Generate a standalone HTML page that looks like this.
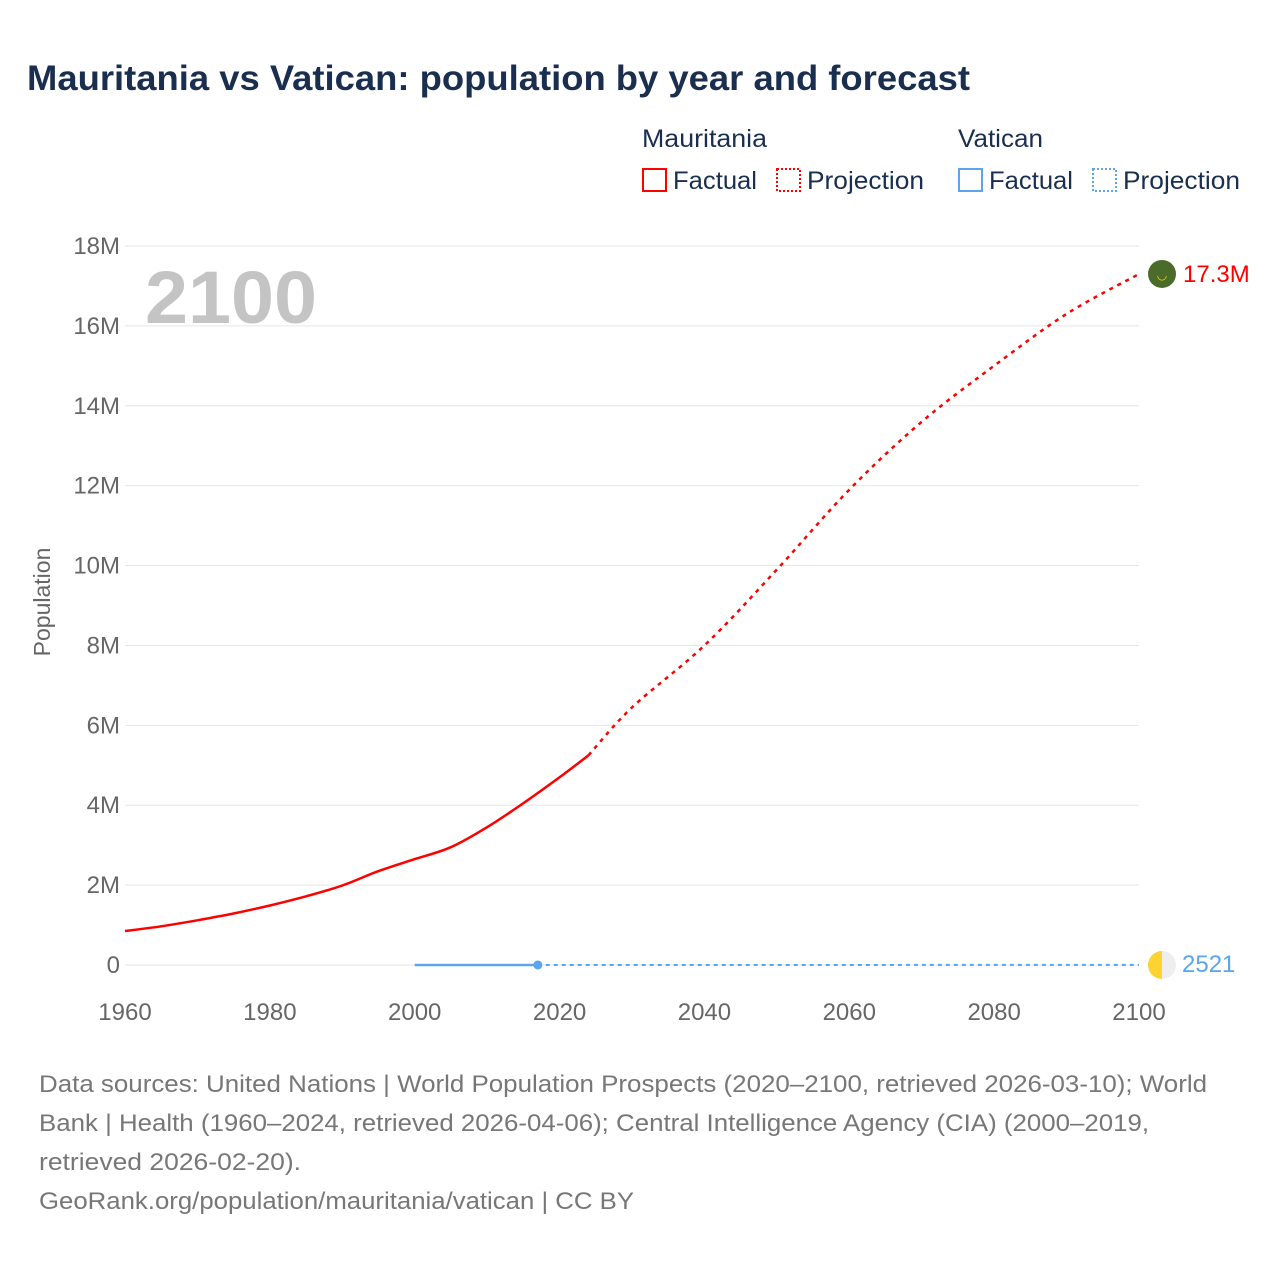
<!DOCTYPE html>
<html><head><meta charset="utf-8">
<style>
body{margin:0;background:#fff;font-family:"Liberation Sans",sans-serif;}
</style></head>
<body>
<svg id="chart" width="1280" height="1280" xmlns="http://www.w3.org/2000/svg" font-family="Liberation Sans, sans-serif">
<text x="27" y="90" font-size="35" font-weight="bold" fill="#1a2e4f" textLength="943" lengthAdjust="spacingAndGlyphs">Mauritania vs Vatican: population by year and forecast</text>
<g font-size="25" fill="#1a2e4f">
<text x="642" y="147" textLength="125" lengthAdjust="spacingAndGlyphs">Mauritania</text>
<text x="958" y="147" textLength="85" lengthAdjust="spacingAndGlyphs">Vatican</text>
<g><rect x="643" y="169" width="23" height="22" fill="none" stroke="#f00" stroke-width="2"/><text x="673" y="189" textLength="84" lengthAdjust="spacingAndGlyphs">Factual</text></g>
<g><rect x="777" y="169" width="23" height="22" fill="none" stroke="#f00" stroke-width="2" stroke-dasharray="2,2"/><text x="807" y="189" textLength="117" lengthAdjust="spacingAndGlyphs">Projection</text></g>
<g><rect x="959" y="169" width="23" height="22" fill="none" stroke="#5aa5ee" stroke-width="2"/><text x="989" y="189" textLength="84" lengthAdjust="spacingAndGlyphs">Factual</text></g>
<g><rect x="1093" y="169" width="23" height="22" fill="none" stroke="#5aa5ee" stroke-width="2" stroke-dasharray="2,2"/><text x="1123" y="189" textLength="117" lengthAdjust="spacingAndGlyphs">Projection</text></g>
</g>
<g id="grid"></g>
<g id="axes" font-size="24" fill="#666"></g>
<text x="145" y="323" font-size="74" font-weight="bold" fill="#c4c4c4" textLength="172" lengthAdjust="spacingAndGlyphs">2100</text>
<text transform="translate(50,602) rotate(-90)" text-anchor="middle" font-size="23" fill="#666">Population</text>
<g id="series"></g>
<g font-size="24" fill="#777">
<text x="39" y="1092" textLength="1168" lengthAdjust="spacingAndGlyphs">Data sources: United Nations | World Population Prospects (2020–2100, retrieved 2026-03-10); World</text>
<text x="39" y="1131" textLength="1110" lengthAdjust="spacingAndGlyphs">Bank | Health (1960–2024, retrieved 2026-04-06); Central Intelligence Agency (CIA) (2000–2019,</text>
<text x="39" y="1170" textLength="262" lengthAdjust="spacingAndGlyphs">retrieved 2026-02-20).</text>
<text x="39" y="1209" textLength="595" lengthAdjust="spacingAndGlyphs">GeoRank.org/population/mauritania/vatican | CC BY</text>
</g>
</svg>
<script>
const yTicks=[0,2,4,6,8,10,12,14,16,18];
const xTicks=[1960,1980,2000,2020,2040,2060,2080,2100];
const mrYears=[1960,1965,1970,1975,1980,1985,1990,1995,2000,2005,2010,2015,2020,2024];
const mrValues=[0.85,0.97,1.12,1.29,1.49,1.72,1.99,2.35,2.65,2.95,3.45,4.05,4.70,5.25];
const mrProjYears=[2024,2030,2040,2050,2060,2070,2080,2090,2100];
const mrProjValues=[5.25,6.45,8.0,9.9,11.9,13.6,15.0,16.3,17.3];
const vaYears=[2000,2017];
const vaValues=[0.0008,0.0008];
const vaProjYears=[2017,2100];
const vaProjValues=[0.0008,0.0025];
const NS="http://www.w3.org/2000/svg";
const X=y=>125+(y-1960)*(1014/140);
const Y=v=>965-v*(719/18);
function mk(tag,attrs,parent){const e=document.createElementNS(NS,tag);for(const k in attrs)e.setAttribute(k,attrs[k]);parent.appendChild(e);return e;}
const grid=document.getElementById('grid'),axes=document.getElementById('axes'),series=document.getElementById('series');
yTicks.forEach(t=>{
 const l=mk('line',{x1:125,x2:1139,y1:Y(t),y2:Y(t),stroke:'#e6e6e6','stroke-width':1},grid);
 
 
 const tx=mk('text',{x:120,y:Y(t)+8,'text-anchor':'end'},axes);
 tx.textContent=t===0?'0':t+'M';
 
 
});
xTicks.forEach(t=>{
 const tx=mk('text',{x:X(t),y:1020,'text-anchor':'middle'},axes);
 tx.textContent=t;
 
 
});
function path(xs,vs){
 const P=xs.map((y,i)=>[X(y),Y(vs[i])]);
 let d='M'+P[0][0].toFixed(1)+','+P[0][1].toFixed(1);
 for(let i=0;i<P.length-1;i++){
  const p0=P[i-1]||P[i],p1=P[i],p2=P[i+1],p3=P[i+2]||P[i+1];
  const c1=[p1[0]+(p2[0]-p0[0])/6,p1[1]+(p2[1]-p0[1])/6];
  const c2=[p2[0]-(p3[0]-p1[0])/6,p2[1]-(p3[1]-p1[1])/6];
  d+=' C'+c1.map(v=>v.toFixed(1))+' '+c2.map(v=>v.toFixed(1))+' '+p2.map(v=>v.toFixed(1));
 }
 return d;
}
let p=mk('path',{d:path(mrYears,mrValues),fill:'none',stroke:'#f00','stroke-width':2.5},series);


p=mk('path',{d:path(mrProjYears,mrProjValues),fill:'none',stroke:'#f00','stroke-width':2.5,'stroke-dasharray':'4,5'},series);


p=mk('path',{d:path(vaYears,vaValues),fill:'none',stroke:'#5aa5ee','stroke-width':2.5},series);


p=mk('path',{d:path(vaProjYears,vaProjValues),fill:'none',stroke:'#5aa5ee','stroke-width':2,'stroke-dasharray':'4,4'},series);


let c=mk('circle',{cx:X(vaYears[1]),cy:Y(vaValues[1]),r:4.5,fill:'#5aa5ee'},series);


const mEnd=mrProjValues[mrProjValues.length-1];
c=mk('circle',{cx:1162,cy:Y(mEnd),r:14,fill:'#4a6b2a'},series);


let t=mk('text',{x:1162,y:Y(mEnd)+5,'text-anchor':'middle','font-size':12,fill:'#f5d000'},series);
t.textContent='◡';
t=mk('text',{x:1183,y:Y(mEnd)+8,'font-size':24,fill:'#f00'},series);
t.textContent='17.3M';


const g=mk('g',{},series);


mk('circle',{cx:1162,cy:965,r:14,fill:'#eee'},g);
mk('path',{d:'M1162,951 A14,14 0 0,0 1162,979 Z',fill:'#fdd331'},g);
t=mk('text',{x:1182,y:972,'font-size':24,fill:'#5aa5ee'},series);
t.textContent='2521';


</script>
</body></html>
